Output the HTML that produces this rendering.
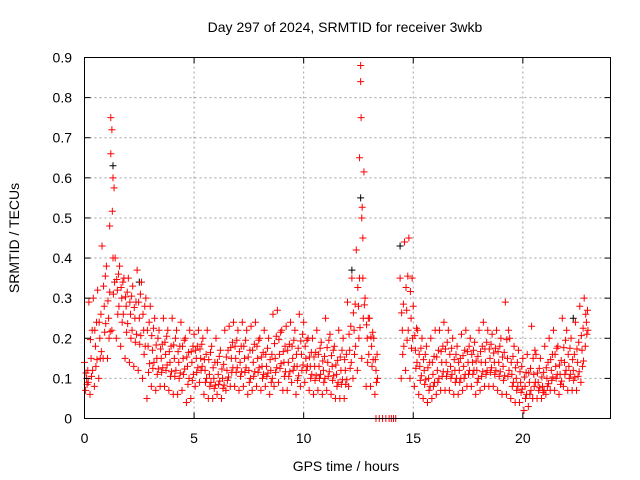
<!DOCTYPE html>
<html><head><meta charset="utf-8"><style>
body{margin:0;background:#fff}
svg{display:block;font-family:"Liberation Sans",sans-serif;font-size:14px}
</style></head><body>
<svg id="chart" width="640" height="480" viewBox="0 0 640 480" xmlns="http://www.w3.org/2000/svg">
<rect width="640" height="480" fill="#fff"/>
<text x="345" y="32" text-anchor="middle" fill="#000">Day 297 of 2024, SRMTID for receiver 3wkb</text>
<text x="346" y="471" text-anchor="middle">GPS time / hours</text>
<text transform="translate(19,238) rotate(-90)" text-anchor="middle">SRMTID / TECUs</text>
<g id="grid"></g>
<g id="marks"></g>
<rect x="84.5" y="57.5" width="526" height="361" fill="none" stroke="#000" stroke-width="1"/>
<g id="axes"></g>
</svg>
<script>
const xTicks=[0,5,10,15,20];
const yTicks=[0,0.1,0.2,0.3,0.4,0.5,0.6,0.7,0.8,0.9];
const yTickLabels=["0","0.1","0.2","0.3","0.4","0.5","0.6","0.7","0.8","0.9"];
const times=[0,0.2,0.4,0.6,0.8,1.0,1.2,1.4,1.6,1.8,2.0,2.2,2.4,2.6,2.8,3.0,3.2,3.4,3.6,3.8,4.0,4.2,4.4,4.6,4.8,5.0,5.2,5.4,5.6,5.8,6.0,6.2,6.4,6.6,6.8,7.0,7.2,7.4,7.6,7.8,8.0,8.2,8.4,8.6,8.8,9.0,9.2,9.4,9.6,9.8,10.0,10.2,10.4,10.6,10.8,11.0,11.2,11.4,11.6,11.8,12.0,12.2,12.4,12.6,12.8,13.0,13.2,14.4,14.6,14.8,15.0,15.2,15.4,15.6,15.8,16.0,16.2,16.4,16.6,16.8,17.0,17.2,17.4,17.6,17.8,18.0,18.2,18.4,18.6,18.8,19.0,19.2,19.4,19.6,19.8,20.0,20.2,20.4,20.6,20.8,21.0,21.2,21.4,21.6,21.8,22.0,22.2,22.4,22.6,22.8];
const hiVals=[.14,.29,.30,.32,.43,.38,.75,.40,.38,.35,.35,.33,.37,.34,.30,.28,.25,.22,.25,.22,.25,.22,.24,.20,.22,.21,.22,.20,.22,.18,.20,.17,.22,.23,.24,.22,.24,.22,.23,.24,.20,.22,.20,.26,.27,.22,.23,.24,.22,.26,.24,.20,.20,.22,.19,.25,.21,.18,.22,.20,.29,.35,.42,.88,.30,.25,.20,.35,.44,.45,.28,.22,.20,.18,.20,.22,.22,.24,.22,.20,.18,.21,.22,.20,.19,.22,.24,.22,.21,.22,.20,.29,.20,.18,.17,.15,.16,.23,.16,.15,.18,.20,.22,.18,.25,.22,.20,.24,.28,.30];
const midVals=[.10,.15,.18,.20,.28,.25,.40,.32,.30,.28,.26,.25,.25,.22,.18,.17,.15,.15,.16,.14,.15,.14,.15,.13,.14,.15,.15,.12,.11,.10,.11,.10,.12,.15,.15,.14,.15,.12,.14,.15,.13,.13,.12,.15,.16,.14,.14,.15,.13,.16,.15,.13,.13,.13,.12,.14,.13,.11,.12,.12,.17,.22,.28,.35,.20,.18,.12,.22,.27,.25,.17,.13,.12,.10,.11,.12,.14,.14,.13,.12,.12,.13,.14,.14,.12,.14,.14,.15,.14,.14,.13,.15,.11,.10,.09,.08,.09,.11,.09,.08,.10,.12,.13,.11,.14,.13,.12,.14,.17,.24];
const loVals=[.07,.06,.08,.10,.15,.15,.22,.20,.18,.15,.14,.13,.12,.10,.05,.08,.07,.08,.08,.07,.06,.06,.07,.04,.05,.08,.09,.06,.05,.05,.06,.05,.07,.08,.08,.07,.08,.06,.07,.08,.07,.08,.06,.08,.09,.07,.07,.09,.06,.08,.09,.07,.06,.07,.06,.07,.06,.05,.05,.05,.08,.10,.12,.15,.08,.08,.06,.10,.12,.10,.08,.06,.05,.04,.05,.06,.07,.07,.07,.06,.06,.07,.08,.08,.06,.07,.08,.08,.08,.07,.06,.06,.05,.04,.04,.02,.03,.05,.05,.05,.06,.07,.07,.06,.08,.07,.07,.07,.09,.18];
const spikeTimes=[1.15,1.2,1.25,1.3,12.55,12.6,12.62,12.65,12.7];
const spikeVals=[0.48,0.66,0.72,0.60,0.65,0.84,0.75,0.5,0.45];
const zeroTimes=[13.3,13.45,13.6,13.75,13.9,14.0,14.1,14.2];
const blackTimes=[1.3,12.2,12.6,14.4,2.5,22.3];
const blackVals=[0.63,0.37,0.55,0.43,0.34,0.25];

const NS="http://www.w3.org/2000/svg";
const X0=84.5,X1=610.5,Y0=418.5,Y1=57.5;
const xs=v=>X0+v/24*(X1-X0);
const ys=v=>Y0-v/0.9*(Y0-Y1);
function mk(tag,attrs,parent){const e=document.createElementNS(NS,tag);for(const k in attrs)e.setAttribute(k,attrs[k]);parent.appendChild(e);return e;}
const grid=document.getElementById('grid'),axes=document.getElementById('axes'),marks=document.getElementById('marks');
xTicks.forEach(t=>{
  const x=xs(t);
  if(t>0){const g=mk('line',{x1:x,x2:x,y1:Y0,y2:Y1,stroke:'#a0a0a0','stroke-dasharray':'2,3'},grid);
  
  }
  mk('line',{x1:x,x2:x,y1:Y0,y2:Y0-6,stroke:'#000'},axes);
  mk('line',{x1:x,x2:x,y1:Y1,y2:Y1+6,stroke:'#000'},axes);
  const l=mk('text',{x:x,y:443,'text-anchor':'middle'},axes);l.textContent=String(t);
  
  
});
yTicks.forEach((t,i)=>{
  const y=ys(t);
  if(i>0&&i<yTicks.length-1){const g=mk('line',{x1:X0,x2:X1,y1:y,y2:y,stroke:'#a0a0a0','stroke-dasharray':'2,3'},grid);
  
  }
  mk('line',{x1:X0,x2:X0+6,y1:y,y2:y,stroke:'#000'},axes);
  mk('line',{x1:X1,x2:X1-6,y1:y,y2:y,stroke:'#000'},axes);
  const l=mk('text',{x:72,y:y+5,'text-anchor':'end'},axes);l.textContent=yTickLabels[i];
  
  
});
function cross(t,v,color,name){
  const x=xs(t),y=ys(v);
  const p=mk('path',{d:`M${x-3.5},${y}H${x+3.5}M${x},${y-3.5}V${y+3.5}`,stroke:color,'stroke-width':1,fill:'none'},marks);
  
  
}
blackTimes.forEach((t,i)=>cross(t,blackVals[i],'#000','black-point'));
times.forEach((t,i)=>{
  cross(t,hiVals[i],'#f00','red-point-high');
  cross(t+0.1,midVals[i],'#f00','red-point-mid');
  cross(t+0.05,loVals[i],'#f00','red-point-low');
  cross(t+0.15,(hiVals[i]+midVals[i])/2,'#f00','red-point');
  cross(t+0.12,(loVals[i]+midVals[i])/2,'#f00','red-point');
  cross(t+0.07,(hiVals[i]+2*midVals[i])/3,'#f00','red-point');
  cross(t+0.17,(loVals[i]+2*midVals[i])/3,'#f00','red-point');
});
spikeTimes.forEach((t,i)=>cross(t,spikeVals[i],'#f00','red-spike-point'));
zeroTimes.forEach(t=>cross(t,0,'#f00','red-zero-point'));
</script>
</body></html>
